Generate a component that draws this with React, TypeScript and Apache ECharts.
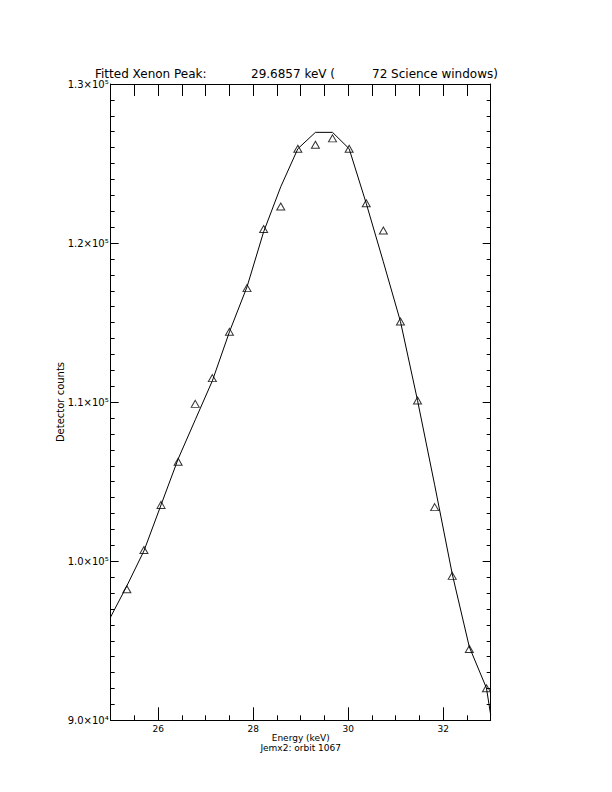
import React, { useEffect, useRef } from "react";
import * as echarts from "echarts";

const energies = [25.34, 25.70, 26.06, 26.42, 26.78, 27.14, 27.50, 27.87, 28.22, 28.58, 28.94, 29.31, 29.67, 30.02, 30.38, 30.74, 31.10, 31.46, 31.82, 32.19, 32.55, 32.91];
const counts = [98240, 100710, 103540, 106250, 109890, 111510, 114420, 117170, 120880, 122300, 125930, 126180, 126580, 125930, 122500, 120790, 115070, 110100, 103400, 99080, 94480, 92010];
const fitEnergies = [25.0, 25.34, 25.70, 26.06, 26.42, 26.78, 27.14, 27.50, 27.87, 28.22, 28.58, 28.94, 29.31, 29.67, 30.02, 30.38, 30.74, 31.10, 31.46, 31.82, 32.19, 32.55, 32.91, 33.0];
const fitCounts = [96500, 98450, 100650, 103540, 106430, 108890, 111340, 114420, 117250, 120710, 123540, 125930, 126960, 126960, 125930, 122490, 118820, 115070, 110100, 104800, 99200, 94610, 92030, 90330];
const yTicks = ["9.0×10⁴", "1.0×10⁵", "1.1×10⁵", "1.2×10⁵", "1.3×10⁵"];
const xTicks = [26, 28, 30, 32];

const FONT = "DejaVu Sans";

export default function App() {
  const ref = useRef<HTMLDivElement>(null);
  useEffect(() => {
    if (!ref.current) return;
    const chart = echarts.init(ref.current, null, { renderer: "svg" });
    const rect = { left: 110.7, top: 84, right: 612 - 490.7, bottom: 792 - 720.3, containLabel: false };
    const lineStyle = { color: "#000", width: 1 };
    const titleStyle = { font: `12px ${FONT}`, lineHeight: 12, fill: "#000", verticalAlign: "middle" };
    chart.setOption({
      animation: false,
      backgroundColor: "#fff",
      grid: [rect, rect],
      graphic: [
        { type: "text", x: 95, y: 73.5, style: { ...titleStyle, text: "Fitted Xenon Peak:" } },
        { type: "text", x: 251, y: 73.5, style: { ...titleStyle, text: "29.6857 keV (" } },
        { type: "text", x: 372, y: 73.5, style: { ...titleStyle, text: "72 Science windows)" } },
        { type: "text", x: 300.7, y: 738, style: { text: "Energy (keV)", font: `9px ${FONT}`, lineHeight: 9, fill: "#000", align: "center", verticalAlign: "middle" } },
        { type: "text", x: 300.7, y: 747.5, style: { text: "Jemx2: orbit 1067", font: `9px ${FONT}`, lineHeight: 9, fill: "#000", align: "center", verticalAlign: "middle" } },
        { type: "text", x: 60, y: 402, rotation: Math.PI / 2, style: { text: "Detector counts", font: `10px ${FONT}`, fill: "#000", align: "center", verticalAlign: "middle" } },
      ],
      xAxis: [
        {
          type: "value", gridIndex: 0, position: "bottom", min: 25, max: 33, interval: 0.5,
          axisLine: { show: true, onZero: false, lineStyle },
          axisTick: { show: true, inside: true, length: 5, lineStyle },
          splitLine: { show: false },
          axisLabel: { show: false },
        },
        {
          type: "value", gridIndex: 0, position: "top", min: 25, max: 33, interval: 0.5,
          axisLine: { show: true, onZero: false, lineStyle },
          axisTick: { show: true, inside: true, length: 12, lineStyle },
          splitLine: { show: false },
          axisLabel: { show: false },
        },
        {
          type: "value", gridIndex: 1, position: "bottom", min: 25, max: 33, interval: 0.5,
          axisLine: { show: false, onZero: false },
          axisTick: { show: true, inside: true, length: 13, lineStyle, customValues: xTicks },
          splitLine: { show: false },
          axisLabel: {
            show: true, margin: 4, color: "#000", fontFamily: FONT, fontSize: 9, lineHeight: 9,
            customValues: xTicks,
            formatter: (v: number) => String(v),
          },
        },
      ],
      yAxis: [
        {
          type: "value", gridIndex: 0, position: "left", min: 90000, max: 130000, interval: 10000,
          axisLine: { show: true, onZero: false, lineStyle },
          axisTick: { show: true, inside: true, length: 8, lineStyle },
          minorTick: { show: true, splitNumber: 10, length: 4, lineStyle },
          splitLine: { show: false },
          axisLabel: {
            show: true, margin: 2, color: "#000", fontFamily: FONT, fontSize: 10, lineHeight: 10,
            formatter: (v: number) => yTicks[Math.round((v - 90000) / 10000)] ?? "",
          },
        },
        {
          type: "value", gridIndex: 0, position: "right", min: 90000, max: 130000, interval: 10000,
          axisLine: { show: true, onZero: false, lineStyle },
          axisTick: { show: true, inside: true, length: 8, lineStyle },
          minorTick: { show: true, splitNumber: 10, length: 4, lineStyle },
          splitLine: { show: false },
          axisLabel: { show: false },
        },
        {
          type: "value", gridIndex: 1, show: false, min: 0, max: 1,
        },
      ],
      series: [
        {
          type: "line",
          xAxisIndex: 0,
          yAxisIndex: 0,
          data: fitEnergies.map((e, i) => [e, fitCounts[i]]),
          showSymbol: false,
          symbol: "none",
          lineStyle: { color: "#000", width: 1 },
          clip: true,
          silent: true,
        },
        {
          type: "scatter",
          xAxisIndex: 0,
          yAxisIndex: 0,
          data: energies.map((e, i) => [e, counts[i]]),
          symbol: "triangle",
          symbolSize: [8, 7],
          itemStyle: { color: "rgba(255,255,255,0)", borderColor: "#000", borderWidth: 1 },
          silent: true,
        },
      ],
    });
    return () => chart.dispose();
  }, []);
  return (
    <div
      ref={ref}
      style={{ position: "fixed", left: 0, top: 0, width: 612, height: 792, background: "#fff" }}
    />
  );
}
